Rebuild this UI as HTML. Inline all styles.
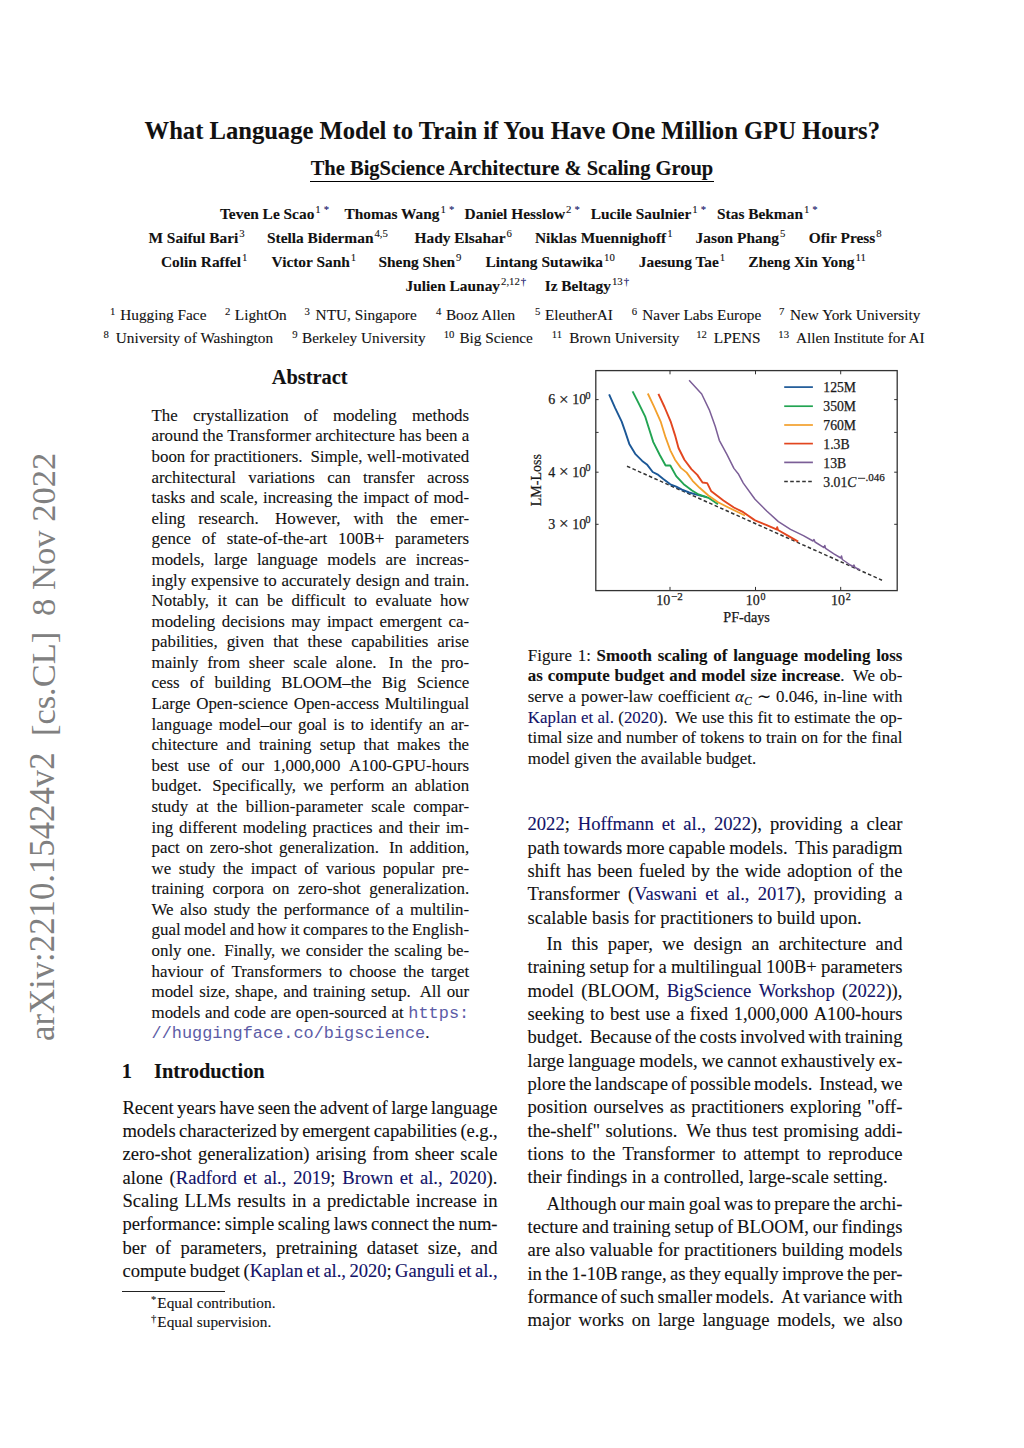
<!DOCTYPE html>
<html><head><meta charset="utf-8"><style>
html,body{margin:0;padding:0;background:#fff;}
body{width:1024px;height:1448px;position:relative;overflow:hidden;font-family:"Liberation Serif",serif;color:#111;}
.ln{position:absolute;white-space:nowrap;line-height:1;-webkit-text-stroke:0.1px currentColor;}
.jf{display:flex;justify-content:space-between;}
.se{margin-right:0.2em;}
.B{font-weight:bold;}
.L{color:#121268;}
.M{font-family:"Liberation Mono",monospace;color:#5c5ca6;font-size:1em;-webkit-text-stroke:0;}
.sp{font-size:0.7em;position:relative;top:-0.55em;font-weight:normal;margin-left:1px;}
.sp2{font-size:0.7em;position:relative;top:-0.5em;}
.fsup{font-size:0.7em;position:relative;top:-0.45em;margin-right:1px;}
.stampw{position:absolute;width:0;height:0;transform:rotate(-90deg);transform-origin:0 0;}
.stamp{color:#808080;-webkit-text-stroke:0;}
sub{font-size:0.7em;vertical-align:baseline;position:relative;top:0.25em;font-style:italic;}
i{font-style:italic;}
</style></head><body>
<div class="ln B" style="left:144.60px;top:119.00px;font-size:24.60px;">What Language Model to Train if You Have One Million GPU Hours?</div>
<div class="ln B" style="left:310.70px;top:158.00px;font-size:20.50px;">The BigScience Architecture &amp; Scaling Group</div>
<div style="position:absolute;left:310px;top:180.5px;width:404px;height:1.2px;background:#000"></div>
<div class="ln B" style="left:220.00px;top:206.00px;font-size:15.40px">Teven Le Scao<span class="sp">1<span class="L" style="margin-left:3px">*</span></span></div>
<div class="ln B" style="left:344.40px;top:206.00px;font-size:15.40px">Thomas Wang<span class="sp">1<span class="L" style="margin-left:3px">*</span></span></div>
<div class="ln B" style="left:464.60px;top:206.00px;font-size:15.40px">Daniel Hesslow<span class="sp">2<span class="L" style="margin-left:3px">*</span></span></div>
<div class="ln B" style="left:590.80px;top:206.00px;font-size:15.40px">Lucile Saulnier<span class="sp">1<span class="L" style="margin-left:3px">*</span></span></div>
<div class="ln B" style="left:717.00px;top:206.00px;font-size:15.40px">Stas Bekman<span class="sp">1<span class="L" style="margin-left:3px">*</span></span></div>
<div class="ln B" style="left:148.50px;top:230.00px;font-size:15.40px">M Saiful Bari<span class="sp">3</span></div>
<div class="ln B" style="left:267.00px;top:230.00px;font-size:15.40px">Stella Biderman<span class="sp">4,5</span></div>
<div class="ln B" style="left:414.50px;top:230.00px;font-size:15.40px">Hady Elsahar<span class="sp">6</span></div>
<div class="ln B" style="left:534.90px;top:230.00px;font-size:15.40px">Niklas Muennighoff<span class="sp">1</span></div>
<div class="ln B" style="left:695.50px;top:230.00px;font-size:15.40px">Jason Phang<span class="sp">5</span></div>
<div class="ln B" style="left:808.75px;top:230.00px;font-size:15.40px">Ofir Press<span class="sp">8</span></div>
<div class="ln B" style="left:161.00px;top:254.00px;font-size:15.40px">Colin Raffel<span class="sp">1</span></div>
<div class="ln B" style="left:271.60px;top:254.00px;font-size:15.40px">Victor Sanh<span class="sp">1</span></div>
<div class="ln B" style="left:378.50px;top:254.00px;font-size:15.40px">Sheng Shen<span class="sp">9</span></div>
<div class="ln B" style="left:485.40px;top:254.00px;font-size:15.40px">Lintang Sutawika<span class="sp">10</span></div>
<div class="ln B" style="left:638.80px;top:254.00px;font-size:15.40px">Jaesung Tae<span class="sp">1</span></div>
<div class="ln B" style="left:748.20px;top:254.00px;font-size:15.40px">Zheng Xin Yong<span class="sp">11</span></div>
<div class="ln B" style="left:405.50px;top:278.00px;font-size:15.40px">Julien Launay<span class="sp">2,12<span class="L" style="margin-left:1px">†</span></span></div>
<div class="ln B" style="left:544.70px;top:278.00px;font-size:15.40px">Iz Beltagy<span class="sp">13<span class="L" style="margin-left:1px">†</span></span></div>
<div class="ln" style="left:109.90px;top:307.00px;font-size:15.30px"><span class="sp2">1</span></div>
<div class="ln" style="left:120.20px;top:307.00px;font-size:15.30px">Hugging Face</div>
<div class="ln" style="left:224.90px;top:307.00px;font-size:15.30px"><span class="sp2">2</span></div>
<div class="ln" style="left:234.80px;top:307.00px;font-size:15.30px">LightOn</div>
<div class="ln" style="left:304.40px;top:307.00px;font-size:15.30px"><span class="sp2">3</span></div>
<div class="ln" style="left:315.60px;top:307.00px;font-size:15.30px">NTU, Singapore</div>
<div class="ln" style="left:436.00px;top:307.00px;font-size:15.30px"><span class="sp2">4</span></div>
<div class="ln" style="left:445.90px;top:307.00px;font-size:15.30px">Booz Allen</div>
<div class="ln" style="left:534.90px;top:307.00px;font-size:15.30px"><span class="sp2">5</span></div>
<div class="ln" style="left:545.00px;top:307.00px;font-size:15.30px">EleutherAI</div>
<div class="ln" style="left:631.80px;top:307.00px;font-size:15.30px"><span class="sp2">6</span></div>
<div class="ln" style="left:642.30px;top:307.00px;font-size:15.30px">Naver Labs Europe</div>
<div class="ln" style="left:779.00px;top:307.00px;font-size:15.30px"><span class="sp2">7</span></div>
<div class="ln" style="left:790.00px;top:307.00px;font-size:15.30px">New York University</div>
<div class="ln" style="left:103.60px;top:330.00px;font-size:15.30px"><span class="sp2">8</span></div>
<div class="ln" style="left:115.70px;top:330.00px;font-size:15.30px">University of Washington</div>
<div class="ln" style="left:292.30px;top:330.00px;font-size:15.30px"><span class="sp2">9</span></div>
<div class="ln" style="left:302.00px;top:330.00px;font-size:15.30px">Berkeley University</div>
<div class="ln" style="left:443.70px;top:330.00px;font-size:15.30px"><span class="sp2">10</span></div>
<div class="ln" style="left:459.40px;top:330.00px;font-size:15.30px">Big Science</div>
<div class="ln" style="left:551.70px;top:330.00px;font-size:15.30px"><span class="sp2">11</span></div>
<div class="ln" style="left:569.30px;top:330.00px;font-size:15.30px">Brown University</div>
<div class="ln" style="left:696.25px;top:330.00px;font-size:15.30px"><span class="sp2">12</span></div>
<div class="ln" style="left:713.80px;top:330.00px;font-size:15.30px">LPENS</div>
<div class="ln" style="left:778.30px;top:330.00px;font-size:15.30px"><span class="sp2">13</span></div>
<div class="ln" style="left:795.90px;top:330.00px;font-size:15.30px">Allen Institute for AI</div>
<div class="stampw" style="left:54.90px;top:1041.00px;"><div class="ln stamp" style="left:0;top:-29.10px;font-size:34.75px;">arXiv:2210.15424v2</div></div>
<div class="stampw" style="left:54.90px;top:736.00px;"><div class="ln stamp" style="left:0;top:-28.81px;font-size:34.40px;">[cs.CL]</div></div>
<div class="stampw" style="left:54.90px;top:616.00px;"><div class="ln stamp" style="left:0;top:-28.98px;font-size:34.60px;">8 Nov 2022</div></div>
<div class="ln B" style="left:271.70px;top:367.00px;font-size:20.40px;">Abstract</div>
<div class="ln jf " style="left:151.50px;top:408.00px;font-size:16.90px;width:317.70px;"><span>The</span><span>crystallization</span><span>of</span><span>modeling</span><span>methods</span></div>
<div class="ln jf " style="left:151.50px;top:428.00px;font-size:16.90px;width:317.70px;"><span>around</span><span>the</span><span>Transformer</span><span>architecture</span><span>has</span><span>been</span><span>a</span></div>
<div class="ln jf " style="left:151.50px;top:449.00px;font-size:16.90px;width:317.70px;"><span>boon</span><span>for</span><span class="se">practitioners.</span><span>Simple,</span><span>well-motivated</span></div>
<div class="ln jf " style="left:151.50px;top:470.00px;font-size:16.90px;width:317.70px;"><span>architectural</span><span>variations</span><span>can</span><span>transfer</span><span>across</span></div>
<div class="ln jf " style="left:151.50px;top:490.00px;font-size:16.90px;width:317.70px;"><span>tasks</span><span>and</span><span>scale,</span><span>increasing</span><span>the</span><span>impact</span><span>of</span><span>mod-</span></div>
<div class="ln jf " style="left:151.50px;top:511.00px;font-size:16.90px;width:317.70px;"><span>eling</span><span class="se">research.</span><span>However,</span><span>with</span><span>the</span><span>emer-</span></div>
<div class="ln jf " style="left:151.50px;top:531.00px;font-size:16.90px;width:317.70px;"><span>gence</span><span>of</span><span>state-of-the-art</span><span>100B+</span><span>parameters</span></div>
<div class="ln jf " style="left:151.50px;top:552.00px;font-size:16.90px;width:317.70px;"><span>models,</span><span>large</span><span>language</span><span>models</span><span>are</span><span>increas-</span></div>
<div class="ln jf " style="left:151.50px;top:573.00px;font-size:16.90px;width:317.70px;"><span>ingly</span><span>expensive</span><span>to</span><span>accurately</span><span>design</span><span>and</span><span>train.</span></div>
<div class="ln jf " style="left:151.50px;top:593.00px;font-size:16.90px;width:317.70px;"><span>Notably,</span><span>it</span><span>can</span><span>be</span><span>difficult</span><span>to</span><span>evaluate</span><span>how</span></div>
<div class="ln jf " style="left:151.50px;top:614.00px;font-size:16.90px;width:317.70px;"><span>modeling</span><span>decisions</span><span>may</span><span>impact</span><span>emergent</span><span>ca-</span></div>
<div class="ln jf " style="left:151.50px;top:634.00px;font-size:16.90px;width:317.70px;"><span>pabilities,</span><span>given</span><span>that</span><span>these</span><span>capabilities</span><span>arise</span></div>
<div class="ln jf " style="left:151.50px;top:655.00px;font-size:16.90px;width:317.70px;"><span>mainly</span><span>from</span><span>sheer</span><span>scale</span><span class="se">alone.</span><span>In</span><span>the</span><span>pro-</span></div>
<div class="ln jf " style="left:151.50px;top:675.00px;font-size:16.90px;width:317.70px;"><span>cess</span><span>of</span><span>building</span><span>BLOOM–the</span><span>Big</span><span>Science</span></div>
<div class="ln jf " style="left:151.50px;top:696.00px;font-size:16.90px;width:317.70px;"><span>Large</span><span>Open-science</span><span>Open-access</span><span>Multilingual</span></div>
<div class="ln jf " style="left:151.50px;top:717.00px;font-size:16.90px;width:317.70px;"><span>language</span><span>model–our</span><span>goal</span><span>is</span><span>to</span><span>identify</span><span>an</span><span>ar-</span></div>
<div class="ln jf " style="left:151.50px;top:737.00px;font-size:16.90px;width:317.70px;"><span>chitecture</span><span>and</span><span>training</span><span>setup</span><span>that</span><span>makes</span><span>the</span></div>
<div class="ln jf " style="left:151.50px;top:758.00px;font-size:16.90px;width:317.70px;"><span>best</span><span>use</span><span>of</span><span>our</span><span>1,000,000</span><span>A100-GPU-hours</span></div>
<div class="ln jf " style="left:151.50px;top:778.00px;font-size:16.90px;width:317.70px;"><span class="se">budget.</span><span>Specifically,</span><span>we</span><span>perform</span><span>an</span><span>ablation</span></div>
<div class="ln jf " style="left:151.50px;top:799.00px;font-size:16.90px;width:317.70px;"><span>study</span><span>at</span><span>the</span><span>billion-parameter</span><span>scale</span><span>compar-</span></div>
<div class="ln jf " style="left:151.50px;top:820.00px;font-size:16.90px;width:317.70px;"><span>ing</span><span>different</span><span>modeling</span><span>practices</span><span>and</span><span>their</span><span>im-</span></div>
<div class="ln jf " style="left:151.50px;top:840.00px;font-size:16.90px;width:317.70px;"><span>pact</span><span>on</span><span>zero-shot</span><span class="se">generalization.</span><span>In</span><span>addition,</span></div>
<div class="ln jf " style="left:151.50px;top:861.00px;font-size:16.90px;width:317.70px;"><span>we</span><span>study</span><span>the</span><span>impact</span><span>of</span><span>various</span><span>popular</span><span>pre-</span></div>
<div class="ln jf " style="left:151.50px;top:881.00px;font-size:16.90px;width:317.70px;"><span>training</span><span>corpora</span><span>on</span><span>zero-shot</span><span>generalization.</span></div>
<div class="ln jf " style="left:151.50px;top:902.00px;font-size:16.90px;width:317.70px;"><span>We</span><span>also</span><span>study</span><span>the</span><span>performance</span><span>of</span><span>a</span><span>multilin-</span></div>
<div class="ln jf " style="left:151.50px;top:922.00px;font-size:16.90px;width:317.70px;"><span>gual</span><span>model</span><span>and</span><span>how</span><span>it</span><span>compares</span><span>to</span><span>the</span><span>English-</span></div>
<div class="ln jf " style="left:151.50px;top:943.00px;font-size:16.90px;width:317.70px;"><span>only</span><span class="se">one.</span><span>Finally,</span><span>we</span><span>consider</span><span>the</span><span>scaling</span><span>be-</span></div>
<div class="ln jf " style="left:151.50px;top:964.00px;font-size:16.90px;width:317.70px;"><span>haviour</span><span>of</span><span>Transformers</span><span>to</span><span>choose</span><span>the</span><span>target</span></div>
<div class="ln jf " style="left:151.50px;top:984.00px;font-size:16.90px;width:317.70px;"><span>model</span><span>size,</span><span>shape,</span><span>and</span><span>training</span><span class="se">setup.</span><span>All</span><span>our</span></div>
<div class="ln jf " style="left:151.50px;top:1005.00px;font-size:16.90px;width:317.70px;"><span>models</span><span>and</span><span>code</span><span>are</span><span>open-sourced</span><span>at</span><span><span class="M">https:</span></span></div>
<div class="ln " style="left:151.50px;top:1025.00px;font-size:16.90px;"><span class="M">//huggingface.co/bigscience</span>.</div>
<div class="ln B" style="left:121.80px;top:1061.00px;font-size:20.40px;">1</div>
<div class="ln B" style="left:154.00px;top:1061.00px;font-size:20.40px;">Introduction</div>
<div class="ln jf " style="left:122.50px;top:1099.00px;font-size:18.60px;letter-spacing:-0.094px;width:375.00px;"><span>Recent</span><span>years</span><span>have</span><span>seen</span><span>the</span><span>advent</span><span>of</span><span>large</span><span>language</span></div>
<div class="ln jf " style="left:122.50px;top:1122.00px;font-size:18.60px;letter-spacing:-0.112px;width:375.00px;"><span>models</span><span>characterized</span><span>by</span><span>emergent</span><span>capabilities</span><span>(e.g.,</span></div>
<div class="ln jf " style="left:122.50px;top:1145.00px;font-size:18.60px;width:375.00px;"><span>zero-shot</span><span>generalization)</span><span>arising</span><span>from</span><span>sheer</span><span>scale</span></div>
<div class="ln jf " style="left:122.50px;top:1169.00px;font-size:18.60px;width:375.00px;"><span>alone</span><span>(<span class="L">Radford</span></span><span><span class="L">et</span></span><span><span class="L">al.,</span></span><span><span class="L">2019</span>;</span><span><span class="L">Brown</span></span><span><span class="L">et</span></span><span><span class="L">al.,</span></span><span><span class="L">2020</span>).</span></div>
<div class="ln jf " style="left:122.50px;top:1192.00px;font-size:18.60px;width:375.00px;"><span>Scaling</span><span>LLMs</span><span>results</span><span>in</span><span>a</span><span>predictable</span><span>increase</span><span>in</span></div>
<div class="ln jf " style="left:122.50px;top:1215.00px;font-size:18.60px;letter-spacing:-0.034px;width:375.00px;"><span>performance:</span><span>simple</span><span>scaling</span><span>laws</span><span>connect</span><span>the</span><span>num-</span></div>
<div class="ln jf " style="left:122.50px;top:1239.00px;font-size:18.60px;width:375.00px;"><span>ber</span><span>of</span><span>parameters,</span><span>pretraining</span><span>dataset</span><span>size,</span><span>and</span></div>
<div class="ln jf " style="left:122.50px;top:1262.00px;font-size:18.60px;letter-spacing:-0.054px;width:375.00px;"><span>compute</span><span>budget</span><span>(<span class="L">Kaplan</span></span><span><span class="L">et</span></span><span><span class="L">al.,</span></span><span><span class="L">2020</span>;</span><span><span class="L">Ganguli</span></span><span><span class="L">et</span></span><span><span class="L">al.,</span></span></div>
<div style="position:absolute;left:122px;top:1290.6px;width:103px;height:1px;background:#222"></div>
<div class="ln " style="left:151.00px;top:1295.00px;font-size:15.30px;"><span class="fsup">*</span>Equal contribution.</div>
<div class="ln " style="left:151.00px;top:1314.00px;font-size:15.30px;"><span class="fsup">†</span>Equal supervision.</div>
<div class="ln jf " style="left:527.80px;top:648.00px;font-size:16.90px;width:374.70px;"><span>Figure</span><span>1:</span><span><span class="B">Smooth</span></span><span><span class="B">scaling</span></span><span><span class="B">of</span></span><span><span class="B">language</span></span><span><span class="B">modeling</span></span><span><span class="B">loss</span></span></div>
<div class="ln jf " style="left:527.80px;top:668.00px;font-size:16.90px;width:374.70px;"><span><span class="B">as</span></span><span><span class="B">compute</span></span><span><span class="B">budget</span></span><span><span class="B">and</span></span><span><span class="B">model</span></span><span><span class="B">size</span></span><span class="se"><span class="B">increase</span>.</span><span>We</span><span>ob-</span></div>
<div class="ln jf " style="left:527.80px;top:689.00px;font-size:16.90px;width:374.70px;"><span>serve</span><span>a</span><span>power-law</span><span>coefficient</span><span><i>α</i><sub>C</sub></span><span>∼</span><span>0.046,</span><span>in-line</span><span>with</span></div>
<div class="ln jf " style="left:527.80px;top:710.00px;font-size:16.90px;width:374.70px;"><span><span class="L">Kaplan</span></span><span><span class="L">et</span></span><span><span class="L">al.</span></span><span class="se">(<span class="L">2020</span>).</span><span>We</span><span>use</span><span>this</span><span>fit</span><span>to</span><span>estimate</span><span>the</span><span>op-</span></div>
<div class="ln jf " style="left:527.80px;top:730.00px;font-size:16.90px;width:374.70px;"><span>timal</span><span>size</span><span>and</span><span>number</span><span>of</span><span>tokens</span><span>to</span><span>train</span><span>on</span><span>for</span><span>the</span><span>final</span></div>
<div class="ln " style="left:527.80px;top:751.00px;font-size:16.90px;">model given the available budget.</div>
<div class="ln jf " style="left:527.50px;top:815.00px;font-size:18.60px;width:375.00px;"><span><span class="L">2022</span>;</span><span><span class="L">Hoffmann</span></span><span><span class="L">et</span></span><span><span class="L">al.,</span></span><span><span class="L">2022</span>),</span><span>providing</span><span>a</span><span>clear</span></div>
<div class="ln jf " style="left:527.50px;top:839.00px;font-size:18.60px;width:375.00px;"><span>path</span><span>towards</span><span>more</span><span>capable</span><span class="se">models.</span><span>This</span><span>paradigm</span></div>
<div class="ln jf " style="left:527.50px;top:862.00px;font-size:18.60px;width:375.00px;"><span>shift</span><span>has</span><span>been</span><span>fueled</span><span>by</span><span>the</span><span>wide</span><span>adoption</span><span>of</span><span>the</span></div>
<div class="ln jf " style="left:527.50px;top:885.00px;font-size:18.60px;width:375.00px;"><span>Transformer</span><span>(<span class="L">Vaswani</span></span><span><span class="L">et</span></span><span><span class="L">al.,</span></span><span><span class="L">2017</span>),</span><span>providing</span><span>a</span></div>
<div class="ln " style="left:527.50px;top:909.00px;font-size:18.60px;">scalable basis for practitioners to build upon.</div>
<div class="ln jf " style="left:546.50px;top:935.00px;font-size:18.60px;width:356.00px;"><span>In</span><span>this</span><span>paper,</span><span>we</span><span>design</span><span>an</span><span>architecture</span><span>and</span></div>
<div class="ln jf " style="left:527.50px;top:958.00px;font-size:18.60px;width:375.00px;"><span>training</span><span>setup</span><span>for</span><span>a</span><span>multilingual</span><span>100B+</span><span>parameters</span></div>
<div class="ln jf " style="left:527.50px;top:982.00px;font-size:18.60px;width:375.00px;"><span>model</span><span>(BLOOM,</span><span><span class="L">BigScience</span></span><span><span class="L">Workshop</span></span><span>(<span class="L">2022</span>)),</span></div>
<div class="ln jf " style="left:527.50px;top:1005.00px;font-size:18.60px;width:375.00px;"><span>seeking</span><span>to</span><span>best</span><span>use</span><span>a</span><span>fixed</span><span>1,000,000</span><span>A100-hours</span></div>
<div class="ln jf " style="left:527.50px;top:1028.00px;font-size:18.60px;width:375.00px;"><span class="se">budget.</span><span>Because</span><span>of</span><span>the</span><span>costs</span><span>involved</span><span>with</span><span>training</span></div>
<div class="ln jf " style="left:527.50px;top:1052.00px;font-size:18.60px;width:375.00px;"><span>large</span><span>language</span><span>models,</span><span>we</span><span>cannot</span><span>exhaustively</span><span>ex-</span></div>
<div class="ln jf " style="left:527.50px;top:1075.00px;font-size:18.60px;width:375.00px;"><span>plore</span><span>the</span><span>landscape</span><span>of</span><span>possible</span><span class="se">models.</span><span>Instead,</span><span>we</span></div>
<div class="ln jf " style="left:527.50px;top:1098.00px;font-size:18.60px;width:375.00px;"><span>position</span><span>ourselves</span><span>as</span><span>practitioners</span><span>exploring</span><span>"off-</span></div>
<div class="ln jf " style="left:527.50px;top:1122.00px;font-size:18.60px;width:375.00px;"><span>the-shelf"</span><span class="se">solutions.</span><span>We</span><span>thus</span><span>test</span><span>promising</span><span>addi-</span></div>
<div class="ln jf " style="left:527.50px;top:1145.00px;font-size:18.60px;width:375.00px;"><span>tions</span><span>to</span><span>the</span><span>Transformer</span><span>to</span><span>attempt</span><span>to</span><span>reproduce</span></div>
<div class="ln " style="left:527.50px;top:1168.00px;font-size:18.60px;">their findings in a controlled, large-scale setting.</div>
<div class="ln jf " style="left:546.50px;top:1195.00px;font-size:18.60px;letter-spacing:-0.044px;width:356.00px;"><span>Although</span><span>our</span><span>main</span><span>goal</span><span>was</span><span>to</span><span>prepare</span><span>the</span><span>archi-</span></div>
<div class="ln jf " style="left:527.50px;top:1218.00px;font-size:18.60px;width:375.00px;"><span>tecture</span><span>and</span><span>training</span><span>setup</span><span>of</span><span>BLOOM,</span><span>our</span><span>findings</span></div>
<div class="ln jf " style="left:527.50px;top:1241.00px;font-size:18.60px;width:375.00px;"><span>are</span><span>also</span><span>valuable</span><span>for</span><span>practitioners</span><span>building</span><span>models</span></div>
<div class="ln jf " style="left:527.50px;top:1265.00px;font-size:18.60px;letter-spacing:-0.068px;width:375.00px;"><span>in</span><span>the</span><span>1-10B</span><span>range,</span><span>as</span><span>they</span><span>equally</span><span>improve</span><span>the</span><span>per-</span></div>
<div class="ln jf " style="left:527.50px;top:1288.00px;font-size:18.60px;width:375.00px;"><span>formance</span><span>of</span><span>such</span><span>smaller</span><span class="se">models.</span><span>At</span><span>variance</span><span>with</span></div>
<div class="ln jf " style="left:527.50px;top:1311.00px;font-size:18.60px;width:375.00px;"><span>major</span><span>works</span><span>on</span><span>large</span><span>language</span><span>models,</span><span>we</span><span>also</span></div>
<svg style="position:absolute;left:520px;top:360px" width="390" height="280" viewBox="520 360 390 280">
<g font-family="Liberation Serif" fill="#1a1a1a" stroke="#1a1a1a" stroke-width="0.25">
<line x1="627" y1="466.2" x2="882" y2="580.2" stroke="#333" stroke-width="1.5" stroke-dasharray="3.6,2.4"/>
<polyline fill="none" stroke="#1b5796" stroke-width="1.90" stroke-linejoin="round" stroke-linecap="butt" points="609.1,394.3 615.2,408.1 621.7,421.6 625.2,431.6 629.3,443.9 635.2,453.8 642.2,460.9 646.9,464.4 652.7,472.0 657.4,474.3 663.3,479.0 670.3,484.3 676.2,486.6 682.0,489.6 689.1,492.5 697.3,494.8 707.0,497.2"/>
<polyline fill="none" stroke="#22a452" stroke-width="1.90" stroke-linejoin="round" stroke-linecap="butt" points="632.6,391.4 638.7,403.4 645.1,416.3 649.2,429.2 653.3,442.1 659.8,455.0 665.6,465.5 670.3,465.5 676.2,476.1 684.4,484.8 692.0,490.5 698.6,494.5 708.4,497.8 718.0,504.3"/>
<polyline fill="none" stroke="#f3a02c" stroke-width="1.80" stroke-linejoin="round" stroke-linecap="butt" points="647.8,393.5 653.9,406.4 660.9,422.2 665.6,437.4 670.3,450.3 675.0,459.7 680.9,467.9 686.7,472.6 692.6,480.8 699.6,487.8 708.4,495.5 718.1,502.3 727.9,507.2 737.7,512.0 745.0,515.5"/>
<polyline fill="none" stroke="#e2461f" stroke-width="1.90" stroke-linejoin="round" stroke-linecap="butt" points="658.4,393.8 664.5,407.0 670.9,422.2 675.0,435.1 678.5,448.0 684.4,459.7 691.4,469.1 697.3,474.9 702.5,482.5 707.2,483.1 711.3,491.3 723.4,500.5 733.9,507.5 743.3,512.2 755.0,520.4 766.7,525.1 776.5,529.4 777.2,527.2 778.0,530.0 787.8,535.6 798.2,541.6"/>
<polyline fill="none" stroke="#7b5e97" stroke-width="1.50" stroke-linejoin="round" stroke-linecap="butt" points="689.1,380.3 701.7,394.0 709.3,409.8 715.2,426.3 719.3,440.3 726.9,454.4 733.9,468.4 738.6,474.3 743.3,483.1 755.0,499.3 766.7,511.0 778.4,521.6 790.5,529.3 803.4,535.7 813.0,541.0 814.0,539.5 815.0,542.0 824.0,547.6 824.8,545.5 825.6,548.4 833.9,553.9 840.8,558.0 841.5,556.0 842.3,559.5 846.0,562.0 850.3,565.0 853.0,566.5 854.0,565.0 855.0,567.5 859.7,569.7"/>
<rect x="595.8" y="370.6" width="301.4" height="220" fill="none" stroke="#333" stroke-width="1.3"/>
<line x1="595.8" y1="399.6" x2="598.6" y2="399.6" stroke="#333" stroke-width="1"/>
<line x1="894.2" y1="399.6" x2="897.2" y2="399.6" stroke="#333" stroke-width="1"/>
<line x1="595.8" y1="432.4" x2="598.6" y2="432.4" stroke="#333" stroke-width="1"/>
<line x1="894.2" y1="432.4" x2="897.2" y2="432.4" stroke="#333" stroke-width="1"/>
<line x1="595.8" y1="472.2" x2="598.6" y2="472.2" stroke="#333" stroke-width="1"/>
<line x1="894.2" y1="472.2" x2="897.2" y2="472.2" stroke="#333" stroke-width="1"/>
<line x1="595.8" y1="524.3" x2="598.6" y2="524.3" stroke="#333" stroke-width="1"/>
<line x1="894.2" y1="524.3" x2="897.2" y2="524.3" stroke="#333" stroke-width="1"/>
<line x1="670.0" y1="370.6" x2="670.0" y2="374.3" stroke="#333" stroke-width="1"/>
<line x1="670.0" y1="586.9" x2="670.0" y2="590.6" stroke="#333" stroke-width="1"/>
<line x1="755.5" y1="370.6" x2="755.5" y2="374.3" stroke="#333" stroke-width="1"/>
<line x1="755.5" y1="586.9" x2="755.5" y2="590.6" stroke="#333" stroke-width="1"/>
<line x1="840.7" y1="370.6" x2="840.7" y2="374.3" stroke="#333" stroke-width="1"/>
<line x1="840.7" y1="586.9" x2="840.7" y2="590.6" stroke="#333" stroke-width="1"/>
<text x="548.3" y="404.4" font-size="14">6</text>
<text x="563.8" y="404.6" font-size="17" text-anchor="middle">×</text>
<text x="572.3" y="404.4" font-size="14">10</text>
<text x="585.6" y="398.7" font-size="10">0</text>
<text x="548.3" y="477.0" font-size="14">4</text>
<text x="563.8" y="477.2" font-size="17" text-anchor="middle">×</text>
<text x="572.3" y="477.0" font-size="14">10</text>
<text x="585.6" y="471.3" font-size="10">0</text>
<text x="548.3" y="529.1" font-size="14">3</text>
<text x="563.8" y="529.3" font-size="17" text-anchor="middle">×</text>
<text x="572.3" y="529.1" font-size="14">10</text>
<text x="585.6" y="523.4" font-size="10">0</text>
<text x="670.3" y="605" font-size="14" text-anchor="end">10</text>
<text x="671.1" y="599.8" font-size="11">−2</text>
<text x="759.7" y="605" font-size="14" text-anchor="end">10</text>
<text x="760.5" y="599.8" font-size="10">0</text>
<text x="844.9" y="605" font-size="14" text-anchor="end">10</text>
<text x="845.7" y="599.8" font-size="10">2</text>
<text x="746.6" y="622.2" font-size="14.2" text-anchor="middle">PF-days</text>
<text transform="translate(541.3,480.2) rotate(-90)" font-size="14" text-anchor="middle">LM-Loss</text>
<line x1="784.2" y1="387.1" x2="812.9" y2="387.1" stroke="#1b5796" stroke-width="1.7"/>
<text x="823.3" y="392.2" font-size="13.7">125M</text>
<line x1="784.2" y1="406.2" x2="812.9" y2="406.2" stroke="#22a452" stroke-width="1.7"/>
<text x="823.3" y="411.3" font-size="13.7">350M</text>
<line x1="784.2" y1="425.0" x2="812.9" y2="425.0" stroke="#f3a02c" stroke-width="1.7"/>
<text x="823.3" y="430.1" font-size="13.7">760M</text>
<line x1="784.2" y1="443.6" x2="812.9" y2="443.6" stroke="#e2461f" stroke-width="1.7"/>
<text x="823.3" y="448.7" font-size="13.7">1.3B</text>
<line x1="784.2" y1="462.4" x2="812.9" y2="462.4" stroke="#7b5e97" stroke-width="1.7"/>
<text x="823.3" y="467.5" font-size="13.7">13B</text>
<line x1="784.2" y1="481.5" x2="812.9" y2="481.5" stroke="#333" stroke-width="1.5" stroke-dasharray="3.6,2.4"/>
<text x="823.3" y="486.6" font-size="13.7">3.01<tspan font-style="italic">C</tspan></text>
<line x1="858" y1="478.3" x2="865.2" y2="478.3" stroke="#1a1a1a" stroke-width="0.9"/>
<text x="865.6" y="481.2" font-size="11">.046</text>
</g></svg>
</body></html>
